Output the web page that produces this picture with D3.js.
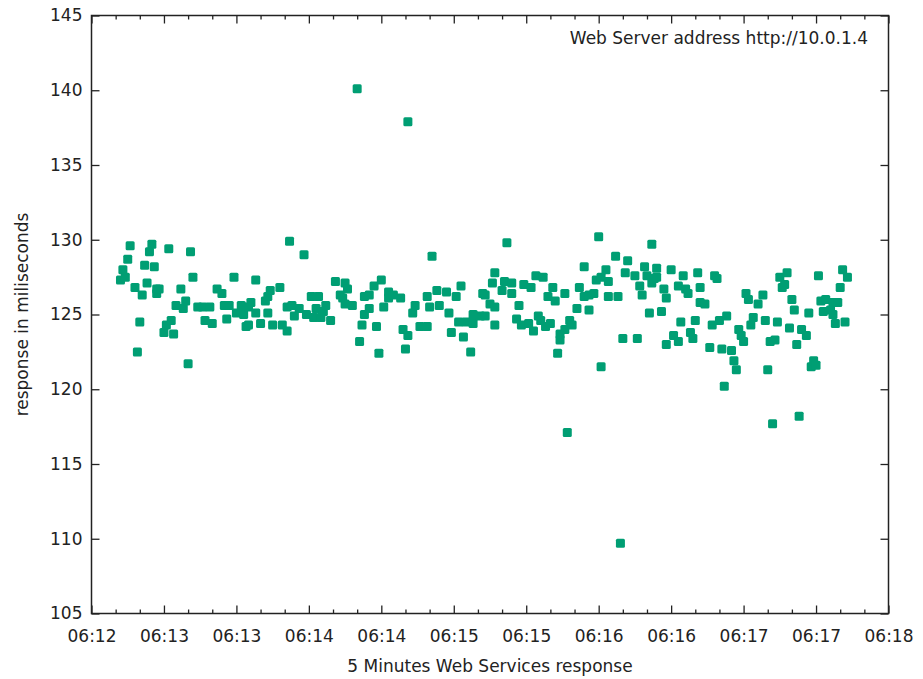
<!DOCTYPE html>
<html>
<head>
<meta charset="utf-8">
<script src="https://cdn.jsdelivr.net/npm/d3@7"></script>
<style>
  body { margin: 0; background: #fff; }
  text { font-family: "DejaVu Sans", sans-serif; fill: #222; }
</style>
</head>
<body>
<svg id="chart" width="923" height="679"></svg>
<script>
// Sample timestamps (HH:MM:SS) and measured response times in ms
const times = [
  "06:12:12","06:12:13","06:12:14","06:12:15","06:12:16","06:12:18","06:12:19","06:12:20","06:12:21","06:12:22",
  "06:12:23","06:12:24","06:12:25","06:12:26","06:12:27","06:12:27","06:12:28","06:12:30","06:12:31","06:12:32",
  "06:12:33","06:12:34","06:12:35","06:12:37","06:12:38","06:12:39","06:12:40","06:12:41","06:12:42","06:12:44",
  "06:12:46","06:12:47","06:12:49","06:12:50","06:12:52","06:12:54","06:12:55","06:12:56","06:12:57","06:12:59",
  "06:13:00","06:13:02","06:13:03","06:13:04","06:13:05","06:13:05","06:13:06","06:13:08","06:13:08","06:13:10",
  "06:13:12","06:13:13","06:13:13","06:13:14","06:13:15","06:13:18","06:13:19","06:13:21","06:13:21","06:13:22",
  "06:13:23","06:13:24","06:13:26","06:13:28","06:13:29","06:13:31","06:13:32","06:13:33","06:13:34","06:13:35",
  "06:13:36","06:13:37","06:13:39","06:13:41","06:13:43","06:13:44","06:13:45","06:13:45","06:13:46","06:13:48",
  "06:13:50","06:13:51","06:13:52","06:13:53","06:13:53","06:13:55","06:13:55","06:13:57","06:13:58","06:13:59",
  "06:14:00","06:14:01","06:14:03","06:14:03","06:14:05","06:14:08","06:14:09","06:14:10","06:14:11","06:14:11",
  "06:14:13","06:14:14","06:14:16","06:14:19","06:14:19","06:14:20","06:14:21","06:14:23","06:14:24","06:14:27",
  "06:14:28","06:14:29","06:14:31","06:14:32","06:14:33","06:14:34","06:14:35","06:14:37","06:14:38","06:14:38",
  "06:14:41","06:14:42","06:14:43","06:14:43","06:14:45","06:14:46","06:14:47","06:14:47","06:14:47","06:14:50",
  "06:14:51","06:14:52","06:14:54","06:14:54","06:14:56","06:14:57","06:14:58","06:14:59",
  "06:15:01","06:15:02","06:15:03","06:15:04","06:15:05","06:15:06","06:15:07","06:15:08","06:15:09","06:15:10",
  "06:15:11","06:15:12","06:15:13","06:15:14","06:15:14","06:15:16","06:15:16","06:15:17","06:15:18","06:15:19",
  "06:15:21","06:15:22","06:15:24","06:15:24","06:15:26","06:15:26","06:15:28","06:15:29","06:15:30","06:15:31",
  "06:15:31","06:15:33","06:15:34","06:15:34","06:15:37","06:15:38","06:15:39","06:15:40","06:15:41","06:15:42",
  "06:15:45","06:15:46","06:15:47","06:15:48","06:15:49","06:15:50","06:15:51","06:15:52","06:15:52","06:15:53",
  "06:15:54","06:15:54","06:15:56","06:15:57","06:15:58","06:15:58",
  "06:16:00","06:16:01","06:16:03","06:16:03","06:16:04","06:16:05","06:16:06","06:16:07","06:16:08","06:16:09",
  "06:16:10","06:16:11","06:16:12","06:16:12","06:16:14","06:16:16","06:16:17","06:16:18","06:16:19","06:16:20",
  "06:16:21","06:16:22","06:16:23","06:16:25","06:16:26","06:16:27","06:16:28","06:16:29","06:16:30","06:16:31",
  "06:16:32","06:16:33","06:16:34","06:16:36","06:16:38","06:16:39","06:16:40","06:16:41","06:16:42","06:16:43",
  "06:16:44","06:16:45","06:16:46","06:16:47","06:16:48","06:16:49","06:16:50","06:16:51","06:16:52","06:16:53",
  "06:16:54","06:16:56","06:16:57","06:16:58","06:16:59",
  "06:17:00","06:17:01","06:17:02","06:17:03","06:17:04","06:17:06","06:17:07","06:17:07","06:17:08","06:17:09",
  "06:17:10","06:17:11","06:17:12","06:17:13"
];

const responseMs = [
  127.3,128.0,127.5,128.7,129.6,126.8,122.5,124.5,126.3,128.3,
  127.1,129.2,129.7,128.2,126.7,126.4,126.7,123.8,124.3,129.4,
  124.6,123.7,125.6,126.7,125.4,125.9,121.7,129.2,127.5,125.5,
  125.5,124.6,125.5,124.4,126.7,126.4,125.6,124.7,125.6,127.5,
  125.1,125.6,125.0,124.2,124.3,125.5,125.8,127.3,125.1,124.4,
  125.9,125.1,126.2,126.6,124.3,126.8,124.3,125.5,123.9,129.9,
  125.6,124.9,125.4,129.0,125.0,126.2,124.8,125.4,126.2,124.8,
  125.2,125.6,124.6,127.2,126.3,126.1,125.7,127.1,126.7,125.6,
  140.1,123.2,124.3,126.2,125.0,125.4,126.3,126.9,124.2,122.4,
  127.3,125.5,126.5,126.1,126.3,126.1,124.0,122.7,137.9,123.6,
  125.1,125.6,124.2,124.2,126.2,125.5,128.9,126.6,125.6,126.5,
  125.1,123.8,126.2,124.5,126.9,123.5,124.5,122.5,125.0,124.4,
  124.9,126.4,126.3,124.9,125.7,127.1,127.8,125.5,124.3,126.6,
  127.2,129.8,127.1,126.4,124.7,125.6,124.3,127.0,
  124.4,126.8,123.9,127.6,124.9,124.6,127.5,124.2,126.2,124.4,
  126.8,125.9,122.4,123.3,123.7,124.0,126.4,117.1,124.6,124.3,
  125.4,126.8,128.2,126.2,126.3,125.3,126.4,127.3,130.2,127.5,
  121.5,128.0,126.2,127.2,128.9,126.2,109.7,123.4,127.8,128.6,
  127.6,123.4,126.9,126.3,128.2,127.6,125.1,129.7,127.1,127.4,
  128.1,127.5,125.2,126.7,123.0,126.1,
  128.0,123.6,126.9,123.2,124.5,127.6,126.7,126.4,123.8,123.4,
  124.6,127.8,126.8,125.8,125.7,122.8,124.3,127.6,127.4,124.6,
  122.7,120.2,124.9,122.6,121.9,121.3,124.0,123.6,123.2,126.4,
  126.0,124.3,124.8,125.7,126.3,124.6,121.3,123.2,117.7,123.3,
  124.5,127.5,126.8,127.0,127.8,124.1,126.0,125.3,123.0,118.2,
  124.0,123.6,125.1,121.5,121.9,
  121.6,127.6,125.9,125.2,126.0,125.3,125.8,125.0,124.4,125.8,
  126.8,128.0,124.5,127.5
];

// Axis range, ticks and labels
const timeRange = ["06:12:00", "06:17:30"];
const xTickLabels = ["06:12","06:13","06:13","06:14","06:14","06:15","06:15","06:16","06:16","06:17","06:17","06:18"];
const yRange = [105, 145];
const yTicks = [105, 110, 115, 120, 125, 130, 135, 140, 145];

const chartTitle = "Web Server address http://10.0.1.4";
const xTitle = "5 Minutes Web Services response";
const yTitle = "response in miliseconds";

const W = 923, H = 679;
const plot = { left: 91.5, right: 888.5, top: 15.5, bottom: 613.5 };
const pointColor = "#009e73";
const ink = "#222";
const fontSize = 17;

const parseTime = d3.timeParse("%H:%M:%S");
const data = times.map((t, i) => ({ t: parseTime(t), v: responseMs[i] }));
const [t0, t1] = timeRange.map(parseTime);

const x = d3.scaleTime().domain([t0, t1]).range([plot.left, plot.right]);
const y = d3.scaleLinear().domain(yRange).range([plot.bottom, plot.top]);

const majorTicks = d3.timeSecond.every(30).range(t0, new Date(+t1 + 1));
const minorTicks = d3.timeSecond.every(10).range(t0, new Date(+t1 + 1))
  .filter(d => d.getSeconds() % 30 !== 0);
const labelFor = d => xTickLabels[majorTicks.findIndex(m => +m === +d)];

const svg = d3.select("#chart");
svg.append("rect").attr("width", W).attr("height", H).attr("fill", "#fff");

function styleAxis(g) {
  g.select(".domain").remove();
  g.selectAll("line").attr("stroke", ink).attr("stroke-width", 1.3);
  g.selectAll("text").attr("fill", ink).attr("font-size", fontSize)
    .attr("font-family", "DejaVu Sans, sans-serif");
}

// bottom axis: major ticks with labels, minor ticks without
svg.append("g").attr("transform", `translate(0,${plot.bottom})`)
  .call(d3.axisBottom(x).tickValues(majorTicks).tickSize(-8).tickPadding(16).tickFormat(labelFor))
  .call(styleAxis);
svg.append("g").attr("transform", `translate(0,${plot.bottom})`)
  .call(d3.axisBottom(x).tickValues(minorTicks).tickSize(-4).tickFormat(""))
  .call(styleAxis);

// top mirror ticks
svg.append("g").attr("transform", `translate(0,${plot.top})`)
  .call(d3.axisTop(x).tickValues(majorTicks).tickSize(-8).tickFormat(""))
  .call(styleAxis);
svg.append("g").attr("transform", `translate(0,${plot.top})`)
  .call(d3.axisTop(x).tickValues(minorTicks).tickSize(-4).tickFormat(""))
  .call(styleAxis);

// left axis with labels, right mirror ticks
svg.append("g").attr("transform", `translate(${plot.left},0)`)
  .call(d3.axisLeft(y).tickValues(yTicks).tickSize(-8).tickPadding(9).tickFormat(d3.format("d")))
  .call(styleAxis);
svg.append("g").attr("transform", `translate(${plot.right},0)`)
  .call(d3.axisRight(y).tickValues(yTicks).tickSize(-8).tickFormat(""))
  .call(styleAxis);

// plot border
svg.append("rect")
  .attr("x", plot.left).attr("y", plot.top)
  .attr("width", plot.right - plot.left).attr("height", plot.bottom - plot.top)
  .attr("fill", "none").attr("stroke", ink).attr("stroke-width", 1.5);

// data points as filled squares
const sz = 9;
svg.append("g").selectAll("rect")
  .data(data)
  .join("rect")
  .attr("x", d => x(d.t) - sz / 2)
  .attr("y", d => y(d.v) - sz / 2)
  .attr("width", sz).attr("height", sz)
  .attr("rx", 1.5)
  .attr("fill", pointColor);

// titles
svg.append("text")
  .attr("x", 868).attr("y", 44)
  .attr("text-anchor", "end")
  .attr("font-size", fontSize)
  .text(chartTitle);

svg.append("text")
  .attr("x", (plot.left + plot.right) / 2).attr("y", 672)
  .attr("text-anchor", "middle")
  .attr("font-size", fontSize)
  .text(xTitle);

svg.append("text")
  .attr("transform", `translate(28,${(plot.top + plot.bottom) / 2}) rotate(-90)`)
  .attr("text-anchor", "middle")
  .attr("font-size", fontSize)
  .text(yTitle);
</script>
</body>
</html>
